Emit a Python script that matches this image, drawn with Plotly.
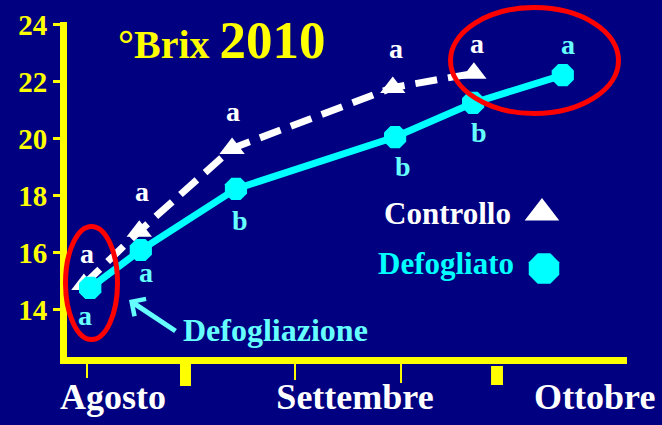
import plotly.graph_objects as go

# ---- data (x = days from the "Agosto" tick, y = °Brix) ----
ctrl_x = [-0.4, 6.7, 18.6, 39.2, 49.6]
ctrl_y = [14.88, 16.75, 19.66, 21.80, 22.30]
ctrl_letters = ["a", "a", "a", "a", "a"]

def_x = [0.4, 6.9, 19.1, 39.5, 49.5, 61.0]
def_y = [14.76, 16.09, 18.24, 20.06, 21.26, 22.24]
def_letters = ["a", "a", "b", "b", "b", "a"]

month_labels = ["Agosto", "Settembre", "Ottobre"]
month_pos = [3.33, 34.36, 65.1]
y_ticks = [14, 16, 18, 20, 22, 24]

# ---- styling ----
NAVY = "#000080"
YEL = "#ffff00"
CYAN = "#00ffff"
LCYAN = "#66ffff"
FONT = "Liberation Serif"

# label offsets (pixels)
ctrl_dx = [3, 3, 1, 3, 3]
ctrl_dy = [31, 40, 37, 39, 30]
def_dx = [-5, 5, 4, 8, 6, 5]
def_dy = [-28, -22, -32, -29, -30, 31]

W, H = 662, 425
L, R, T, B = 67, 35, 22, 68
PW, PH = W - L - R, H - T - B


def px(xp):
    return (xp - L) / PW


def py(yp):
    return (H - B - yp) / PH


fig = go.Figure()

fig.add_trace(go.Scatter(
    x=def_x, y=def_y, mode="lines+markers",
    line=dict(color=CYAN, width=7),
    marker=dict(symbol="octagon", size=24, color=CYAN),
    showlegend=False, hoverinfo="skip"))

fig.add_trace(go.Scatter(
    x=ctrl_x, y=ctrl_y, mode="lines+markers",
    line=dict(color="white", width=7, dash="22px,11px"),
    marker=dict(symbol="triangle-up", size=22, color="white"),
    showlegend=False, hoverinfo="skip"))

# redraw first defoliated point on top (it covers the first control triangle)
fig.add_trace(go.Scatter(
    x=def_x[:1], y=def_y[:1], mode="markers",
    marker=dict(symbol="octagon", size=24, color=CYAN),
    showlegend=False, hoverinfo="skip"))

# legend keys (custom, symbol right of text)
fig.add_trace(go.Scatter(
    x=[58.33], y=[17.39], mode="markers",
    marker=dict(symbol="triangle-up", size=30, color="white"),
    showlegend=False, hoverinfo="skip"))
fig.add_trace(go.Scatter(
    x=[58.59], y=[15.44], mode="markers",
    marker=dict(symbol="octagon", size=33, color=CYAN),
    showlegend=False, hoverinfo="skip"))

ann = []
for x, y, t, dx, dy in zip(ctrl_x, ctrl_y, ctrl_letters, ctrl_dx, ctrl_dy):
    ann.append(dict(x=x, y=y, text=t, showarrow=False, xshift=dx, yshift=dy,
                    font=dict(family=FONT, size=28, color="white", weight="bold")))
for x, y, t, dx, dy in zip(def_x, def_y, def_letters, def_dx, def_dy):
    ann.append(dict(x=x, y=y, text=t, showarrow=False, xshift=dx, yshift=dy,
                    font=dict(family=FONT, size=28, color=LCYAN, weight="bold")))

# title
ann.append(dict(xref="paper", yref="paper", x=px(222), y=py(40),
                xanchor="center", yanchor="middle", showarrow=False,
                text="°Brix <span style='font-size:53px'>2010</span>",
                font=dict(family=FONT, size=40, color=YEL, weight="bold")))
# legend texts
ann.append(dict(xref="paper", yref="paper", x=px(447), y=py(214),
                xanchor="center", yanchor="middle", showarrow=False,
                text="Controllo",
                font=dict(family=FONT, size=31, color="white", weight="bold")))
ann.append(dict(xref="paper", yref="paper", x=px(446), y=py(263),
                xanchor="center", yanchor="middle", showarrow=False,
                text="Defogliato",
                font=dict(family=FONT, size=31, color=CYAN, weight="bold")))
# defoliation note + arrow
ann.append(dict(xref="paper", yref="paper", x=px(275), y=py(330),
                xanchor="center", yanchor="middle", showarrow=False,
                text="Defogliazione",
                font=dict(family=FONT, size=32, color=LCYAN, weight="bold")))
ann.append(dict(xref="paper", yref="paper", x=px(129), y=py(300),
                text="", showarrow=True, ax=48, ay=32, axref="pixel", ayref="pixel",
                arrowhead=4, arrowsize=0.8, arrowwidth=5, arrowcolor=LCYAN))

shapes = []
# x-axis tick marks (thin)
for xv, ye in zip([0, 26.67, 40.26], [378, 380, 383]):
    shapes.append(dict(type="line", xref="x", yref="paper", x0=xv, x1=xv,
                       y0=py(364), y1=py(ye), line=dict(color=YEL, width=2)))
# x-axis tick marks (thick)
for x0, x1, y0, y1 in [(11.92, 13.33, 364, 386), (51.8, 53.33, 366, 385)]:
    shapes.append(dict(type="rect", xref="x", yref="paper", x0=x0, x1=x1,
                       y0=py(y0), y1=py(y1), fillcolor=YEL, line=dict(width=0)))
# red ellipses
shapes.append(dict(type="circle", xref="paper", yref="paper",
                   x0=px(65.5), x1=px(117.5), y0=py(339.5), y1=py(226.5),
                   line=dict(color="#ff0000", width=5)))
shapes.append(dict(type="circle", xref="paper", yref="paper",
                   x0=px(450.5), x1=px(618.5), y0=py(113.5), y1=py(7.5),
                   line=dict(color="#ff0000", width=5)))

fig.update_layout(
    width=W, height=H,
    margin=dict(l=L, r=R, t=T, b=B, pad=0),
    paper_bgcolor=NAVY, plot_bgcolor=NAVY,
    annotations=ann, shapes=shapes,
    xaxis=dict(range=[(L - 87) / 7.8, (W - R - 87) / 7.8],
               showgrid=False, zeroline=False,
               showline=True, linecolor=YEL, linewidth=7,
               tickvals=month_pos, ticktext=month_labels, ticks="",
               ticklabelstandoff=2, automargin=False,
               tickfont=dict(family=FONT, size=36, color="white", weight="bold")),
    yaxis=dict(range=[12.33, 24.105],
               showgrid=False, zeroline=False,
               showline=True, linecolor=YEL, linewidth=7,
               tickvals=y_ticks, ticks="outside", ticklen=7, tickwidth=3,
               tickcolor=YEL, automargin=False,
               tickfont=dict(family=FONT, size=29, color=YEL, weight="bold")),
)

fig.write_html(
    "out.html",
    config={"displayModeBar": False, "staticPlot": True},
    post_script="document.body.style.margin='0';"
                "document.body.style.padding='0';"
                "document.body.style.background='#000080';",
)
